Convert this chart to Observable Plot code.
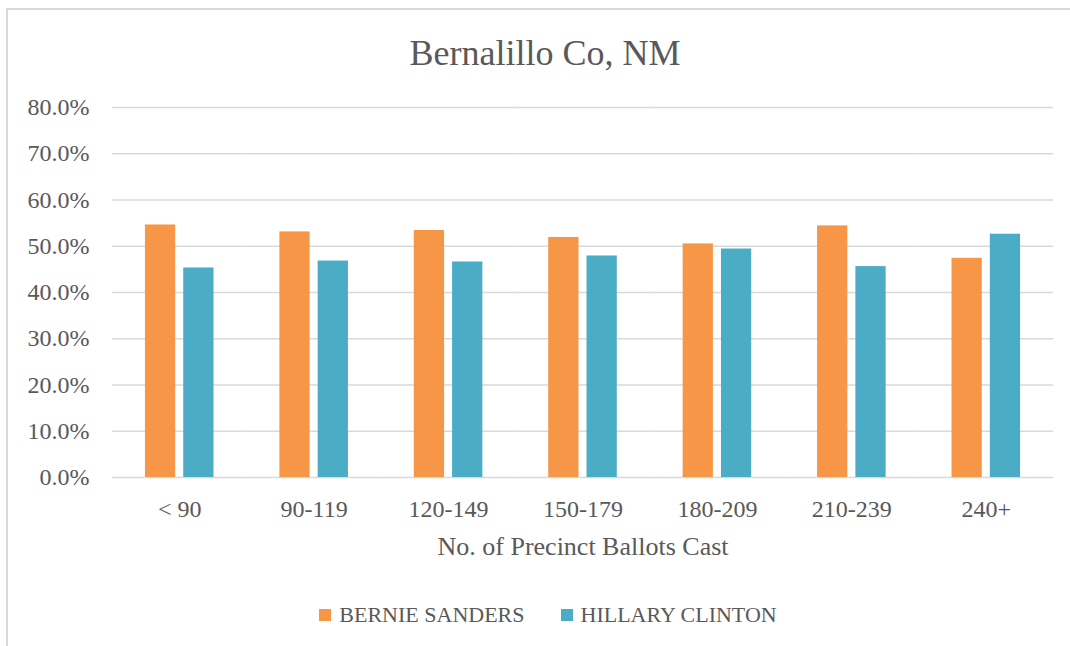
<!DOCTYPE html>
<html>
<head>
<meta charset="utf-8">
<script src="https://cdn.jsdelivr.net/npm/d3@7"></script>
<script src="https://cdn.jsdelivr.net/npm/@observablehq/plot@0.6"></script>
<style>
  html, body { margin: 0; padding: 0; background: #fff; overflow: hidden; }
  #wrap { position: relative; width: 1070px; height: 646px; overflow: hidden; background: #fff;
          font-family: "Liberation Serif", "DejaVu Serif", serif; color: #595959; }
  #frame { position: absolute; left: 6px; top: 8px; width: 1100px; height: 700px;
           border-left: 2px solid #d9d9d9; border-top: 2px solid #d9d9d9; }
  #title { position: absolute; left: 0; top: 34px; width: 1090px; text-align: center;
           font-size: 36px; line-height: 38px; }
  #chart { position: absolute; left: 0; top: 90px; }
  #legend { position: absolute; left: 0; top: 602px; width: 1096px; display: flex;
            justify-content: center; gap: 36px; font-size: 22px; line-height: 26px; }
  #legend .item { display: flex; align-items: center; gap: 8px; }
  #legend .sw { width: 12px; height: 12px; display: inline-block; }
  #chart [aria-label="fx-axis label"] text { font-size: 26px; }
</style>
</head>
<body>
<div id="wrap">
  <div id="frame"></div>
  <div id="title">Bernalillo Co, NM</div>
  <div id="chart"></div>
  <div id="legend"></div>
</div>
<script>
const categories = ["< 90", "90-119", "120-149", "150-179", "180-209", "210-239", "240+"];
const candidates = ["BERNIE SANDERS", "HILLARY CLINTON"];
const sanders = [0.546, 0.531, 0.534, 0.519, 0.505, 0.544, 0.474];
const clinton = [0.453, 0.468, 0.466, 0.479, 0.494, 0.456, 0.526];
const yTicks = [0, 0.1, 0.2, 0.3, 0.4, 0.5, 0.6, 0.7, 0.8];
const colors = ["#F79646", "#4BACC6"];
const xLabel = "No. of Precinct Ballots Cast";

const data = categories.flatMap((c, i) => [
  {cat: c, cand: candidates[0], value: sanders[i]},
  {cat: c, cand: candidates[1], value: clinton[i]}
]);

const chart = Plot.plot({
  width: 1070,
  height: 480,
  marginTop: 17,
  marginBottom: 93,
  marginLeft: 112,
  marginRight: 17,
  style: {fontFamily: '"Liberation Serif", "DejaVu Serif", serif', fontSize: "24px", color: "#595959", background: "transparent"},
  fx: {domain: categories, padding: 0, round: false},
  x: {domain: candidates, paddingInner: 0.21, paddingOuter: 0.86, round: false, axis: null},
  y: {domain: [0, 0.8]},
  color: {domain: candidates, range: colors},
  marks: [
    Plot.gridY(yTicks, {stroke: "#d9d9d9", strokeOpacity: 1, strokeWidth: 1.5}),
    Plot.barY(data, {fx: "cat", x: "cand", y: "value", fill: "cand"}),
    Plot.axisY({ticks: yTicks, tickFormat: d3.format(".1%"), tickSize: 0, tickPadding: 23, label: null}),
    Plot.axisFx({anchor: "bottom", tickSize: 0, tickPadding: 22, label: xLabel, labelAnchor: "center", labelArrow: "none", labelOffset: 77})
  ]
});
document.getElementById("chart").appendChild(chart);

const legend = document.getElementById("legend");
candidates.forEach((c, i) => {
  const item = document.createElement("div");
  item.className = "item";
  const sw = document.createElement("span");
  sw.className = "sw";
  sw.style.background = colors[i];
  const t = document.createElement("span");
  t.textContent = c;
  item.appendChild(sw);
  item.appendChild(t);
  legend.appendChild(item);
});
</script>
</body>
</html>
